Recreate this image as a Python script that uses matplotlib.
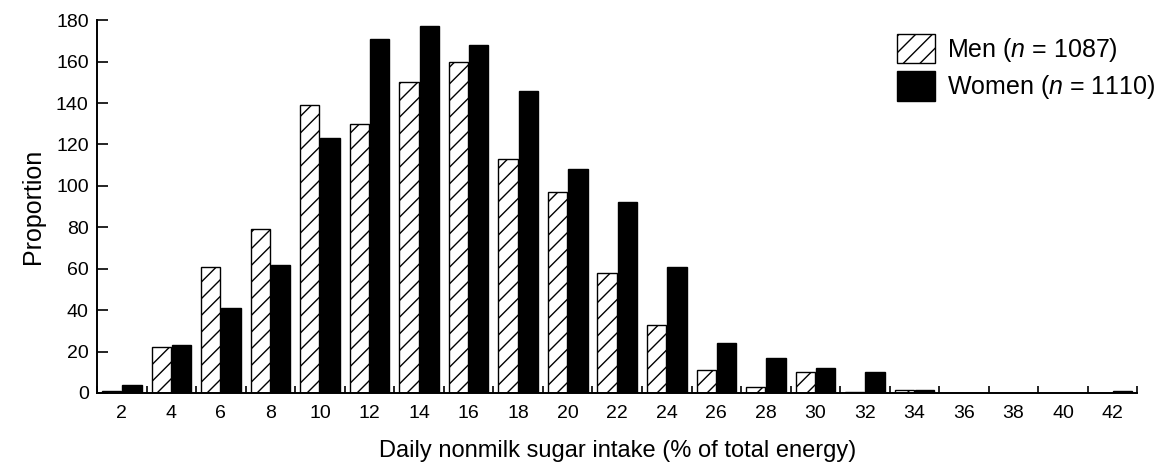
import numpy as np
import matplotlib.pyplot as plt

# =========================
# DATA
# =========================
intake = [2, 4, 6, 8, 10, 12, 14, 16, 18, 20, 22, 24, 26, 28, 30, 32, 34, 36, 38, 40, 42]
men = [1, 22, 61, 79, 139, 130, 150, 160, 113, 97, 58, 33, 11, 3, 10, 0.5, 1.5, 0, 0, 0, 0]
women = [4, 23, 41, 62, 123, 171, 177, 168, 146, 108, 92, 61, 24, 17, 12, 10, 1.5, 0, 0, 0, 1]
men_label = "Men ($n$ = 1087)"
women_label = "Women ($n$ = 1110)"

plt.rcParams['font.family'] = ['Liberation Sans', 'DejaVu Sans']
plt.rcParams['mathtext.fontset'] = 'custom'
plt.rcParams['mathtext.it'] = 'Liberation Sans:italic'
plt.rcParams['mathtext.rm'] = 'Liberation Sans'
plt.rcParams['hatch.linewidth'] = 1.0

# =========================
# GRAF
# =========================
fig = plt.figure(figsize=(11.69, 4.70), dpi=100)
ax = fig.add_axes([0.083, 0.164, 0.890, 0.793])

x = np.array(intake)
w = 0.78
ax.bar(x - 0.41, men, width=w, color='white', edgecolor='black',
       hatch='//', linewidth=1.0, label=men_label)
ax.bar(x + 0.41, women, width=w, color='black', edgecolor='black',
       linewidth=1.0, label=women_label)

ax.set_xlim(1, 43)
ax.set_ylim(0, 180)
ax.set_yticks(range(0, 181, 20))
ax.set_xticks(intake)
ax.set_xticks(np.arange(1, 44, 2), minor=True)
ax.tick_params(axis='x', which='major', length=0, pad=9, labelsize=14)
ax.tick_params(axis='x', which='minor', direction='in', length=5, width=1.2)
ax.tick_params(axis='y', direction='in', length=8, width=1.2, pad=6, labelsize=14)

for side in ['top', 'right']:
    ax.spines[side].set_visible(False)
for side in ['left', 'bottom']:
    ax.spines[side].set_linewidth(1.4)

ax.set_xlabel("Daily nonmilk sugar intake (% of total energy)", fontsize=17, labelpad=13)
ax.set_ylabel("Proportion", fontsize=18, labelpad=8)

fig.legend(loc='upper left', bbox_to_anchor=(0.757, 0.955), frameon=False,
           fontsize=18, handlelength=1.5, handleheight=1.45,
           labelspacing=0.3, handletextpad=0.5, borderpad=0)

fig.savefig("out.png", dpi=100)
